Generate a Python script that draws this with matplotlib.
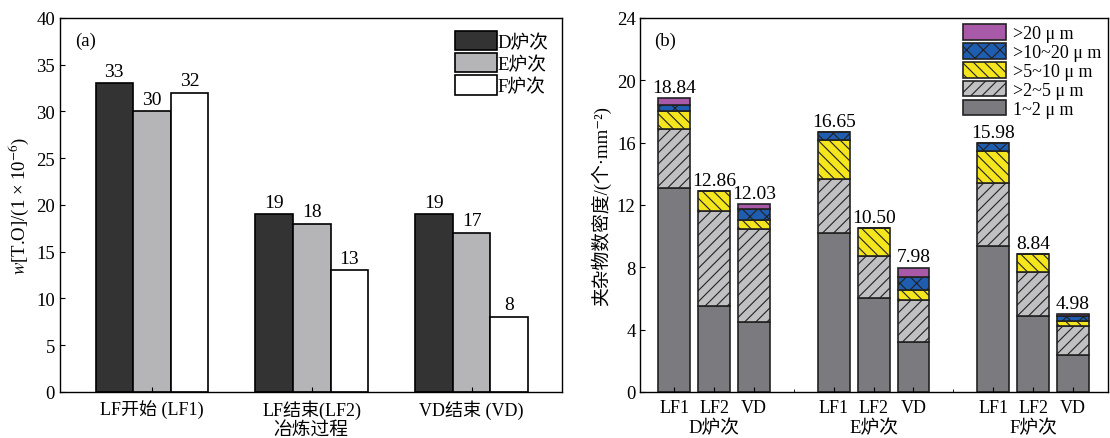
import numpy as np
import matplotlib
matplotlib.use('Agg')
import matplotlib.pyplot as plt
from matplotlib.patches import Patch

plt.rcParams['font.family'] = ['Liberation Serif', 'Noto Sans CJK SC', 'DejaVu Serif']
plt.rcParams['mathtext.fontset'] = 'stix'
plt.rcParams['hatch.linewidth'] = 0.8
plt.rcParams['axes.linewidth'] = 1.0

# (a) 全氧含量
etapas = ['LF开始 (LF1)', 'LF结束(LF2)', 'VD结束 (VD)']
fornos = ['D炉次', 'E炉次', 'F炉次']
to_D = [33, 19, 19]
to_E = [30, 18, 17]
to_F = [32, 13, 8]

# (b) 夹杂物数密度
rotulos_b = ['LF1', 'LF2', 'VD'] * 3
grupos_b = ['D炉次', 'E炉次', 'F炉次']
tamanhos = ['1~2 μ m', '>2~5 μ m', '>5~10 μ m', '>10~20 μ m', '>20 μ m']
s_1_2 = [13.10, 5.53, 4.50, 10.18, 6.04, 3.21, 9.38, 4.88, 2.40]
s_2_5 = [3.74, 6.08, 5.94, 3.47, 2.70, 2.70, 4.03, 2.83, 1.84]
s_5_10 = [1.16, 1.25, 0.62, 2.53, 1.76, 0.65, 2.04, 1.13, 0.30]
s_10_20 = [0.38, 0.00, 0.68, 0.47, 0.00, 0.79, 0.53, 0.00, 0.30]
s_20 = [0.46, 0.00, 0.29, 0.00, 0.00, 0.63, 0.00, 0.00, 0.14]
totais = [18.84, 12.86, 12.03, 16.65, 10.50, 7.98, 15.98, 8.84, 4.98]

fig = plt.figure(figsize=(11.1, 4.39), dpi=100)

# ---------- painel (a)
ax1 = fig.add_axes([0.054, 0.105, 0.452, 0.852])
x = np.arange(len(etapas))
w = 0.235
cores_a = ['#333333', '#b5b5b7', '#ffffff']
for k, (vals, cor) in enumerate(zip([to_D, to_E, to_F], cores_a)):
    pos = x + (k - 1) * w
    ax1.bar(pos, vals, w, color=cor, edgecolor='black', linewidth=1.2, label=fornos[k])
    for p, v in zip(pos, vals):
        ax1.text(p, v + 0.4, f'{v}', ha='center', va='bottom', fontsize=14)
ax1.set_xlim(-0.575, 2.5625)
ax1.set_ylim(0, 40)
ax1.set_yticks(np.arange(0, 41, 5))
ax1.set_xticks(x)
ax1.set_xticklabels(etapas, fontsize=13)
ax1.tick_params(direction='in', labelsize=13.5)
ax1.tick_params(axis='x', labelsize=13, pad=5)
ax1.set_xlabel('冶炼过程', fontsize=13.5, labelpad=2)
ax1.set_ylabel(r'$w$[T.O]/(1 × 10$^{-6}$)', fontsize=13.5, labelpad=4)
ax1.text(0.03, 0.94, '(a)', transform=ax1.transAxes, fontsize=13.5, va='center')
ax1.legend(loc='upper right', frameon=False, fontsize=13.5, handlelength=2.2,
           handleheight=1.2, handletextpad=0.05, labelspacing=0.12,
           borderaxespad=0.3)

# ---------- painel (b)
ax2 = fig.add_axes([0.577, 0.105, 0.421, 0.852])
xb = np.array([0, 1, 2, 4, 5, 6, 8, 9, 10])
series = [s_1_2, s_2_5, s_5_10, s_10_20, s_20]
cores_b = ['#7b7a7f', '#c0c0c2', '#f4e51c', '#1f5db0', '#a85aa8']
hachuras = [None, '///', '\\\\\\', 'xx', None]
base = np.zeros(len(xb))
handles = []
for vals, cor, h, nome in zip(series, cores_b, hachuras, tamanhos):
    vals = np.array(vals)
    ax2.bar(xb, vals, 0.8, bottom=base, color=cor, edgecolor='#222222',
            linewidth=1.2, hatch=h)
    base = base + vals
    handles.append(Patch(facecolor=cor, edgecolor='#222222', hatch=h, linewidth=1.2, label=nome))
for p, t in zip(xb, totais):
    ax2.text(p, t + 0.15, f'{t:.2f}', ha='center', va='bottom', fontsize=14)
ax2.set_xlim(-0.85, 10.875)
ax2.set_ylim(0, 24)
ax2.set_yticks(np.arange(0, 25, 4))
ax2.set_xticks(xb)
ax2.set_xticklabels(rotulos_b, fontsize=13)
ax2.set_xticks([3, 7], minor=True)
ax2.tick_params(direction='in', labelsize=13.5)
ax2.tick_params(axis='x', which='both', direction='in', labelsize=13, pad=5)
for g, nome in zip([1, 5, 9], grupos_b):
    ax2.text(g, -0.094, nome, transform=ax2.get_xaxis_transform(),
             ha='center', va='center', fontsize=13.5)
ax2.set_ylabel('夹杂物数密度/(个·mm⁻²)', fontsize=13.5, labelpad=4)
ax2.text(0.03, 0.94, '(b)', transform=ax2.transAxes, fontsize=13.5, va='center')
ax2.legend(handles=handles[::-1], loc='upper right', frameon=False, fontsize=13,
           handlelength=2.4, handleheight=0.95, handletextpad=0.4,
           labelspacing=0.05, borderpad=0.2, borderaxespad=0.15)

fig.savefig('out.png', dpi=100)
